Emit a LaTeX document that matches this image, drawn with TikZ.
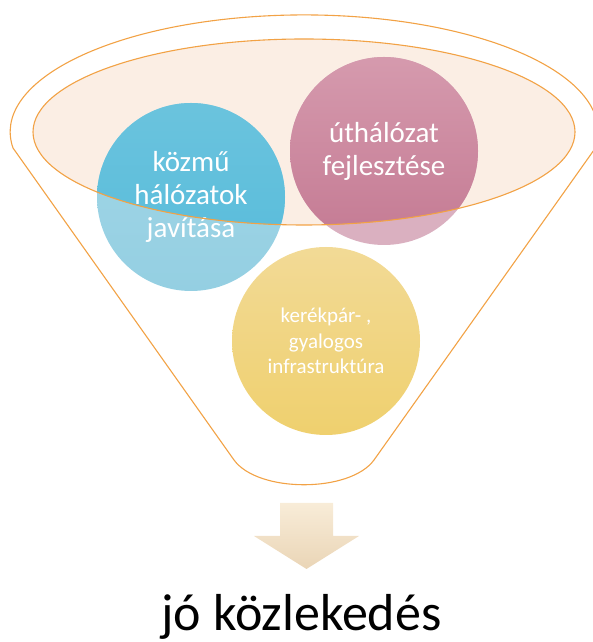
\documentclass[tikz,border=0pt]{standalone}
\usepackage{fontspec}
\setmainfont{Carlito}
\usetikzlibrary{shapes.geometric}
\definecolor{funnelorange}{HTML}{F2A245}
\definecolor{rimfill}{HTML}{FBEEE4}
\definecolor{bluetop}{HTML}{72C6DE}
\definecolor{bluebottom}{HTML}{55BBDB}
\definecolor{bluelighttop}{HTML}{A3D7E7}
\definecolor{bluelightbottom}{HTML}{94CFE2}
\definecolor{pinktop}{HTML}{D79DB0}
\definecolor{pinkbottom}{HTML}{C47A93}
\definecolor{pinklight}{HTML}{DAB0C0}
\definecolor{yellowtop}{HTML}{F2DA96}
\definecolor{yellowbottom}{HTML}{EFD06E}
\definecolor{arrowtop}{HTML}{F8ECD8}
\definecolor{arrowbottom}{HTML}{EAD5B6}
\begin{document}
\begin{tikzpicture}[x=1pt,y=1pt]
\tikzstyle{funnel-line}=[draw=funnelorange, line width=1.1pt]
\tikzstyle{rim}=[ellipse, fill=rimfill, inner sep=0pt, minimum width=542pt, minimum height=186pt]
\tikzstyle{bubble}=[circle, inner sep=0pt, minimum size=188pt, text=white, align=center, font=\fontsize{29pt}{33pt}\selectfont]
\tikzstyle{small-bubble}=[bubble, font=\fontsize{21pt}{25.5pt}\selectfont]
\tikzstyle{block-arrow}=[top color=arrowtop, bottom color=arrowbottom]
\tikzstyle{result}=[anchor=base, inner sep=0pt, font=\fontsize{52pt}{60pt}\selectfont]

\useasboundingbox (0,0) rectangle (592,642);

% funnel outline
\draw[style=funnel-line] (13,494) arc[start angle=187.9, end angle=-7.9, x radius=294pt, y radius=117pt]
  -- (374,182) .. controls (350,149) and (258,149) .. (234,182) -- cycle;

\node[style=rim] (rim) at (304,510) {};

\node[style=bubble, top color=bluelighttop, bottom color=bluelightbottom,
  path picture={\shade[top color=bluetop, bottom color=bluebottom] (rim.center) ellipse (271 and 93);}]
  (kozmu) at (191,445) {közmű\\hálózatok\\javítása};
\node[style=bubble, fill=pinklight,
  path picture={\shade[top color=pinktop, bottom color=pinkbottom] (rim.center) ellipse (271 and 93);}]
  (ut) at (384,491) {úthálózat\\fejlesztése};
\node[style=small-bubble, top color=yellowtop, bottom color=yellowbottom] (bicikli) at (326,301) {kerékpár- ,\\gyalogos\\infrastruktúra};

\draw[style=funnel-line] (rim.center) ellipse (271 and 93);

% arrow and result
\shade[style=block-arrow] (280,139) -- (333,139) -- (333,106) -- (359,106) -- (306.5,73) -- (254,106) -- (280,106) -- cycle;
\node[style=result] (result) at (301.5,12) {jó közlekedés};

\end{tikzpicture}
\end{document}
